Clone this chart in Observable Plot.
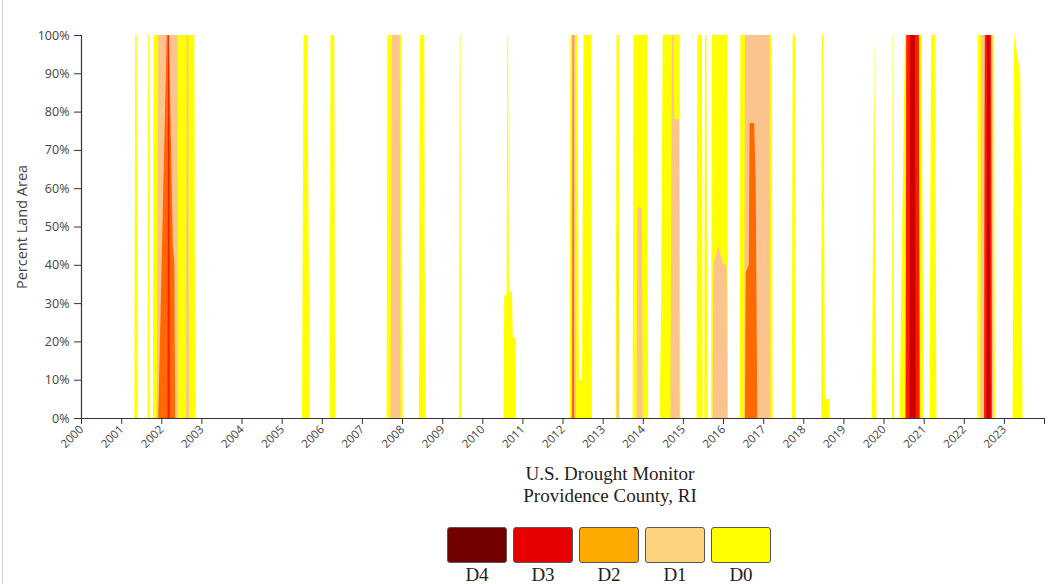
<!DOCTYPE html>
<html>
<head>
<meta charset="utf-8">
<script src="https://cdn.jsdelivr.net/npm/d3@7"></script>
<script src="https://cdn.jsdelivr.net/npm/@observablehq/plot@0.6"></script>
<style>
  body { margin: 0; background: #fff; }
  #wrap { position: relative; width: 1055px; height: 584px; overflow: hidden; background: #fff; }
  #chart { position: absolute; left: 0; top: 0; }
  .title { position: absolute; left: 410px; width: 400px; text-align: center;
           font-family: "Liberation Serif", "Times New Roman", serif; font-size: 19px;
           line-height: 22px; color: #222; }
  .swatch { position: absolute; top: 527px; width: 60px; height: 36px; box-sizing: border-box;
            border: 1px solid #555; border-radius: 3px; }
  .swlabel { position: absolute; top: 565px; width: 60px; text-align: center;
             font-family: "Liberation Serif", "Times New Roman", serif; font-size: 19px;
             line-height: 19px; color: #222; }
  #frame { position: absolute; left: 2px; top: 0; width: 1px; height: 584px; background: #d0d0d0; }
</style>
</head>
<body>
<div id="wrap">
  <div id="frame"></div>
  <div id="chart"></div>
  <div class="title" id="t1" style="top:463px"></div>
  <div class="title" id="t2" style="top:485px"></div>
  <div id="legend"></div>
</div>
<script>
// ---- Data (cumulative percent of land area, breakpoints) ----
const levels = ["D0", "D1", "D2", "D3", "D4"];
const chartColors = ["#ffff00", "#fbc48f", "#ff6a00", "#ff1a00", "#c80000"];
const legendLevels = ["D4", "D3", "D2", "D1", "D0"];
const legendColors = ["#730000", "#e60000", "#ffaa00", "#fcd37f", "#ffff00"];
const yearTicks = [2000,2001,2002,2003,2004,2005,2006,2007,2008,2009,2010,2011,2012,
                   2013,2014,2015,2016,2017,2018,2019,2020,2021,2022,2023,2024];
const percentTicks = [0,10,20,30,40,50,60,70,80,90,100];
const titleLines = ["U.S. Drought Monitor", "Providence County, RI"];
const yLabel = "Percent Land Area";

const d0 = [
  ["2001-05-01",0],["2001-05-08",100],["2001-05-22",100],["2001-05-29",0],
  ["2001-08-28",0],["2001-09-04",100],["2001-09-11",100],["2001-09-18",0],
  ["2001-10-16",0],["2001-10-23",100],["2002-10-29",100],["2002-11-05",0],
  ["2005-07-05",0],["2005-07-19",100],["2005-08-23",100],["2005-09-13",0],
  ["2006-03-14",0],["2006-03-21",100],["2006-04-25",100],["2006-05-02",0],
  ["2007-08-14",0],["2007-08-21",100],["2007-12-25",100],["2008-01-08",0],
  ["2008-06-03",0],["2008-06-10",100],["2008-07-22",100],["2008-07-29",0],
  ["2009-06-02",0],["2009-06-09",100],["2009-06-16",100],["2009-06-23",0],
  ["2010-07-13",0],["2010-07-20",32],["2010-08-10",32],["2010-08-17",100],["2010-08-24",100],
  ["2010-08-31",33],["2010-09-28",33],["2010-10-05",21],["2010-10-26",21],["2010-11-02",0],
  ["2012-03-06",0],["2012-03-13",100],["2012-05-15",100],["2012-05-29",10],["2012-06-26",10],
  ["2012-07-10",100],["2012-09-18",100],["2012-09-25",0],
  ["2013-04-30",0],["2013-05-07",100],["2013-05-28",100],["2013-06-04",0],
  ["2013-10-01",0],["2013-10-08",100],["2014-02-11",100],["2014-02-18",0],
  ["2014-06-03",0],["2014-06-17",30],["2014-07-01",100],["2014-12-02",100],["2014-12-09",0],
  ["2015-05-05",0],["2015-05-12",100],["2015-06-23",100],["2015-06-30",0],
  ["2015-07-14",0],["2015-07-21",100],["2015-08-04",100],["2015-08-11",0],
  ["2015-09-15",0],["2015-09-22",100],["2016-02-09",100],["2016-02-16",0],
  ["2016-05-31",0],["2016-06-07",100],["2017-03-21",100],["2017-03-28",0],
  ["2017-09-19",0],["2017-09-26",100],["2017-10-17",100],["2017-10-24",0],
  ["2018-06-12",0],["2018-06-19",100],["2018-07-03",100],["2018-07-17",5],["2018-08-21",5],["2018-08-28",0],
  ["2019-09-17",0],["2019-10-08",100],["2019-10-29",0],
  ["2020-03-17",0],["2020-03-24",100],["2020-03-31",100],["2020-04-07",0],
  ["2020-05-26",0],["2020-07-14",100],["2020-12-15",100],["2020-12-29",0],
  ["2021-02-23",0],["2021-03-09",100],["2021-04-13",100],["2021-04-27",0],
  ["2022-05-03",0],["2022-05-10",100],["2022-10-04",100],["2022-10-11",0],
  ["2023-03-21",0],["2023-04-04",100],["2023-05-02",95],["2023-05-30",90],["2023-06-20",0]
];
const d1 = [
  ["2001-11-20",0],["2001-12-04",100],["2002-05-28",100],["2002-06-04",0],
  ["2002-08-13",0],["2002-08-20",100],["2002-09-03",100],["2002-09-10",0],
  ["2007-09-18",0],["2007-10-02",100],["2007-12-11",100],["2007-12-18",0],
  ["2012-03-20",0],["2012-03-27",100],["2012-04-24",100],["2012-05-01",0],
  ["2013-05-07",0],["2013-05-14",50],["2013-05-21",50],["2013-05-28",0],
  ["2013-11-05",0],["2013-11-12",55],["2013-12-24",55],["2013-12-31",0],
  ["2014-09-09",0],["2014-09-23",100],["2014-10-07",100],["2014-10-14",78],["2014-11-25",78],["2014-12-02",0],
  ["2015-09-29",0],["2015-10-06",40],["2015-11-17",45],["2016-01-05",40],["2016-02-02",40],["2016-02-09",0],
  ["2016-07-12",0],["2016-07-19",100],["2017-02-28",100],["2017-03-07",0],
  ["2020-07-14",0],["2020-07-21",100],["2020-11-24",100],["2020-12-01",0],
  ["2022-05-31",0],["2022-06-07",100],["2022-09-20",100],["2022-09-27",0]
];
const d2 = [
  ["2001-12-04",0],["2002-02-19",100],["2002-03-12",100],["2002-04-16",45],["2002-04-30",40],["2002-05-07",0],
  ["2012-03-27",0],["2012-04-03",100],["2012-04-10",100],["2012-04-17",0],
  ["2016-07-19",0],["2016-07-26",38],["2016-08-23",40],["2016-08-30",77],["2016-10-11",77],["2016-10-25",60],["2016-11-08",0],
  ["2020-07-21",0],["2020-07-28",100],["2020-11-17",100],["2020-11-24",0],
  ["2022-07-05",0],["2022-07-12",100],["2022-09-06",100],["2022-09-13",0]
];
const d3s = [
  ["2002-02-26",0],["2002-03-05",100],["2002-03-12",100],["2002-03-19",0],
  ["2020-07-21",0],["2020-07-28",100],["2020-11-17",100],["2020-11-24",0],
  ["2022-07-05",0],["2022-07-12",100],["2022-09-06",100],["2022-09-13",0]
];
const d4 = [
  ["2020-08-25",0],["2020-09-01",100],["2020-10-13",100],["2020-10-20",0],
  ["2022-07-26",0],["2022-08-02",100],["2022-08-23",100],["2022-08-30",0]
];
const series = [d0, d1, d2, d3s, d4];

// ---- Chart ----
const toDate = s => new Date(s + "T00:00:00Z");
const yearDates = yearTicks.map(y => new Date(Date.UTC(y, 0, 1)));
const lastYear = yearTicks[yearTicks.length - 1];

const areas = series.map((s, i) =>
  Plot.areaY(s, {x: d => toDate(d[0]), y: d => d[1], fill: chartColors[i], curve: "linear"})
);

const chart = Plot.plot({
  width: 1055,
  height: 460,
  marginLeft: 81,
  marginRight: 11,
  marginTop: 35,
  marginBottom: 42,
  style: {fontFamily: "'Open Sans', sans-serif", fontSize: "12px", color: "#444", background: "transparent"},
  x: {type: "utc", domain: [yearDates[0], yearDates[yearDates.length - 1]]},
  y: {domain: [0, 100]},
  marks: [
    ...areas,
    Plot.ruleY([0], {stroke: "#333", strokeWidth: 1.2}),
    Plot.ruleX([yearDates[0]], {stroke: "#333", strokeWidth: 1.2}),
    Plot.axisX({ticks: yearDates, tickSize: 6, tickPadding: 3, tickRotate: -45, fontSize: 11.5,
                tickFormat: d => d.getUTCFullYear() < lastYear ? String(d.getUTCFullYear()) : "",
                label: null, stroke: "#333"}),
    Plot.axisY({ticks: percentTicks, tickSize: 7, tickPadding: 5, fontSize: 12.5,
                tickFormat: d => d + "%", label: null, stroke: "#333"}),
    Plot.text([yLabel], {frameAnchor: "left", textAnchor: "middle", rotate: -90, dx: -59,
                         fontSize: 14.5, fill: "#444"})
  ]
});
document.getElementById("chart").appendChild(chart);

document.getElementById("t1").textContent = titleLines[0];
document.getElementById("t2").textContent = titleLines[1];

const legend = document.getElementById("legend");
legendLevels.forEach((lv, i) => {
  const left = 447 + i * 66;
  const sw = document.createElement("div");
  sw.className = "swatch";
  sw.style.left = left + "px";
  sw.style.background = legendColors[i];
  legend.appendChild(sw);
  const lb = document.createElement("div");
  lb.className = "swlabel";
  lb.style.left = left + "px";
  lb.textContent = lv;
  legend.appendChild(lb);
});
</script>
</body>
</html>
